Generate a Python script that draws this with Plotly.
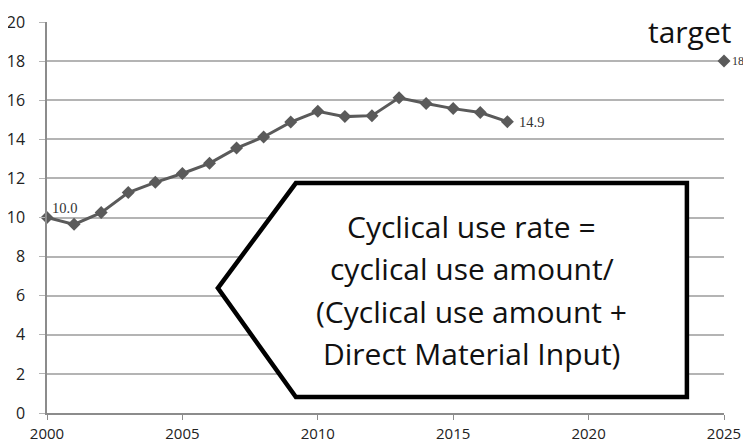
import plotly.graph_objects as go

years = list(range(2000, 2018))
rate = [10.0, 9.65, 10.25, 11.28, 11.8, 12.25, 12.77, 13.55, 14.12, 14.88,
        15.43, 15.16, 15.21, 16.12, 15.83, 15.57, 15.37, 14.9]
target_year = [2025]
target_value = [18]
label_first = "10.0"
label_last = "14.9"
label_target = "18"

callout_lines = ["Cyclical use rate =", "cyclical use amount/",
                 "(Cyclical use amount +", "Direct Material Input)"]

line_color = "#5a5a5a"
grid_color = "#b4b4b4"

fig = go.Figure()
fig.add_trace(go.Scatter(
    x=years, y=rate, mode="lines+markers",
    line=dict(color=line_color, width=3),
    marker=dict(symbol="diamond", size=10, color=line_color),
    cliponaxis=False, showlegend=False, hoverinfo="x+y"))
fig.add_trace(go.Scatter(
    x=target_year, y=target_value, mode="markers",
    marker=dict(symbol="diamond", size=10, color=line_color),
    cliponaxis=False, showlegend=False))

label_font = dict(family="Liberation Serif, DejaVu Serif, serif", size=14.5, color="#333333")
fig.add_annotation(x=years[0], y=rate[0], text=label_first, showarrow=False,
                   xanchor="left", yanchor="middle", xshift=3, yshift=10, font=label_font)
fig.add_annotation(x=years[-1], y=rate[-1], text=label_last, showarrow=False,
                   xanchor="left", yanchor="middle", xshift=10, font=label_font)
fig.add_annotation(x=target_year[0], y=target_value[0], text=label_target, showarrow=False,
                   xanchor="left", yanchor="middle", xshift=6,
                   font=dict(family="Liberation Serif, DejaVu Serif, serif", size=12, color="#333333"))

# white strip hiding the top gridline behind the "target" label
fig.add_shape(type="rect", xref="paper", yref="y", x0=0.8597, x1=1.05, y0=19.85, y1=20.15,
              fillcolor="white", line=dict(width=0), layer="above")
fig.add_annotation(xref="paper", yref="paper", x=1.013, y=1.034, text="target",
                   showarrow=False, xanchor="right", yanchor="top",
                   font=dict(family="Open Sans, sans-serif", size=30, color="#111111"))

# Callout shape (pentagon pointing left)
x_tip, y_tip = 2006.31, 6.39
x_l, x_r = 2009.19, 2023.63
y_t, y_b = 11.76, 0.82
fig.add_shape(type="path", xref="x", yref="y",
              path=f"M {x_tip} {y_tip} L {x_l} {y_t} L {x_r} {y_t} L {x_r} {y_b} L {x_l} {y_b} Z",
              fillcolor="white", line=dict(color="black", width=4.5), layer="above")
text_x, text_y = 2015.69, 6.29
line_gap = 42.5
for i, line in enumerate(callout_lines):
    fig.add_annotation(x=text_x, y=text_y, xref="x", yref="y",
                       yshift=(1.5 - i) * line_gap,
                       text=line, showarrow=False,
                       align="center", xanchor="center", yanchor="middle",
                       font=dict(family="Open Sans, sans-serif", size=30, color="#111111"))

fig.update_layout(
    width=743, height=437,
    margin=dict(l=39, r=27, t=14, b=32),
    plot_bgcolor="white", paper_bgcolor="white",
    xaxis=dict(range=[2000, 2025], tickvals=[2000, 2005, 2010, 2015, 2020, 2025],
               showgrid=False, zeroline=False, showline=True, linecolor="#8c8c8c", linewidth=1.5,
               ticks="outside", ticklen=5, tickcolor="#8c8c8c", automargin=False,
               ticklabelstandoff=1,
               tickfont=dict(family="Open Sans, sans-serif", size=15, color="#222222")),
    yaxis=dict(range=[0, 20], tickvals=list(range(0, 21, 2)),
               showgrid=True, gridcolor=grid_color, gridwidth=1.5, zeroline=False,
               showline=True, linecolor="#8c8c8c", linewidth=1.5,
               ticks="outside", ticklen=6, tickcolor=grid_color, automargin=False,
               ticklabelstandoff=11,
               tickfont=dict(family="Open Sans, sans-serif", size=16, color="#222222")),
)

fig.write_html("out.html")
